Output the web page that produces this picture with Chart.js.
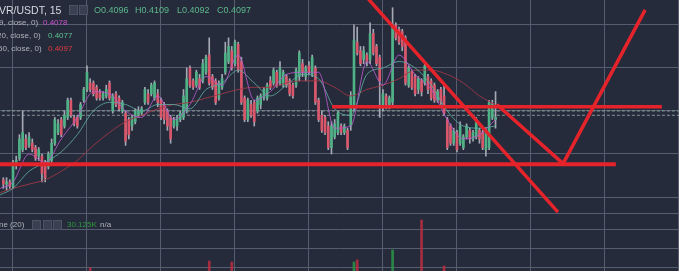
<!DOCTYPE html>
<html>
<head>
<meta charset="utf-8">
<script src="https://cdn.jsdelivr.net/npm/chart.js@4.4.1/dist/chart.umd.min.js"></script>
<style>
  html, body { margin: 0; padding: 0; background: #252b3b; }
  #wrap { position: relative; width: 679px; height: 271px; overflow: hidden; font-family: 'Liberation Sans', Arial, sans-serif; }
  #wrap canvas { position: absolute; left: 0; top: 0; }
  .t { position: absolute; white-space: nowrap; line-height: 1; }
  .box { position: absolute; width: 7px; height: 8px; background: #3a404f; border: 1px solid #4d5364; }
  .sub { font-size: 8px; color: #b0b3bb; }
</style>
</head>
<body>
<div id="wrap">
  <canvas id="grafico" width="679" height="271"></canvas>

  <span class="t" style="left:-1px;top:5px;font-size:10.5px;color:#d7d9e0">VR/USDT, 15</span>
  <span class="box" style="left:69px;top:5px"></span>
  <span class="box" style="left:79px;top:5px"></span>
  <span class="t" style="left:94px;top:6px;font-size:9px;color:#5cb98b">O0.4096</span>
  <span class="t" style="left:135px;top:6px;font-size:9px;color:#5cb98b">H0.4109</span>
  <span class="t" style="left:177px;top:6px;font-size:9px;color:#5cb98b">L0.4092</span>
  <span class="t" style="left:217px;top:6px;font-size:9px;color:#5cb98b">C0.4097</span>

  <span class="t sub" style="left:-1px;top:19px">9, close, 0)</span>
  <span class="t sub" style="left:43px;top:19px;color:#cc4fcc">0.4078</span>
  <span class="t sub" style="left:-3px;top:32px">20, close, 0)</span>
  <span class="t sub" style="left:48px;top:32px;color:#5cc08e">0.4077</span>
  <span class="t sub" style="left:-2px;top:45px">50, close, 0)</span>
  <span class="t sub" style="left:48px;top:45px;color:#e33b3b">0.4097</span>

  <span class="t sub" style="left:-1px;top:221px">ne (20)</span>
  <span class="box" style="left:32px;top:220px"></span>
  <span class="box" style="left:43px;top:220px"></span>
  <span class="box" style="left:53px;top:220px"></span>
  <span class="t sub" style="left:67px;top:221px;color:#2e9a3e">30.125K</span>
  <span class="t sub" style="left:100px;top:221px">n/a</span>
</div>

<script>
// candles, 15 min, index of the first candle
const firstIdx = -3;

const opens = [
  0.4068,0.4066,0.4067,0.4065,0.4075,0.4078,0.4082,0.4087,0.4084,0.4085,
  0.4083,0.4079,0.4079,0.4075,0.4074,0.4077,0.4085,0.4090,0.4096,0.4093,
  0.4097,0.4105,0.4097,0.4097,0.4097,0.4105,0.4110,0.4113,0.4113,0.4111,
  0.4109,0.4106,0.4107,0.4113,0.4100,0.4108,0.4106,0.4100,0.4099,0.4096,
  0.4093,0.4095,0.4098,0.4099,0.4104,0.4108,0.4108,0.4106,0.4108,0.4105,
  0.4103,0.4100,0.4097,0.4093,0.4093,0.4096,0.4097,0.4100,0.4120,0.4114,
  0.4112,0.4115,0.4114,0.4118,0.4126,0.4116,0.4114,0.4106,0.4111,0.4118,
  0.4123,0.4128,0.4122,0.4131,0.4123,0.4106,0.4096,0.4103,0.4104,0.4100,
  0.4103,0.4106,0.4106,0.4114,0.4113,0.4118,0.4113,0.4112,0.4116,0.4114,
  0.4112,0.4112,0.4116,0.4122,0.4116,0.4121,0.4117,0.4120,0.4105,0.4098,
  0.4097,0.4093,0.4083,0.4088,0.4090,0.4093,0.4090,0.4091,0.4093,0.4102,
  0.4132,0.4128,0.4124,0.4126,0.4124,0.4136,0.4130,0.4125,0.4102,0.4107,
  0.4103,0.4104,0.4140,0.4138,0.4137,0.4134,0.4112,0.4118,0.4116,0.4110,
  0.4114,0.4113,0.4116,0.4114,0.4112,0.4105,0.4110,0.4107,0.4096,0.4093,
  0.4085,0.4090,0.4085,0.4083,0.4088,0.4091,0.4087,0.4088,0.4091,0.4090,
  0.4082,0.4083,0.4097,0.4096
];
const highs = [
  0.4069,0.4069,0.4068,0.4077,0.4079,0.4089,0.4100,0.4089,0.4090,0.4087,
  0.4084,0.4083,0.4080,0.4077,0.4081,0.4087,0.4097,0.4096,0.4097,0.4100,
  0.4106,0.4106,0.4098,0.4098,0.4104,0.4111,0.4121,0.4115,0.4114,0.4112,
  0.4110,0.4109,0.4112,0.4114,0.4108,0.4109,0.4107,0.4105,0.4100,0.4097,
  0.4098,0.4101,0.4102,0.4102,0.4111,0.4110,0.4113,0.4114,0.4110,0.4106,
  0.4104,0.4101,0.4098,0.4097,0.4098,0.4100,0.4110,0.4120,0.4121,0.4115,
  0.4119,0.4117,0.4124,0.4126,0.4134,0.4117,0.4115,0.4114,0.4117,0.4132,
  0.4134,0.4130,0.4133,0.4132,0.4125,0.4107,0.4106,0.4105,0.4105,0.4107,
  0.4108,0.4111,0.4113,0.4116,0.4120,0.4119,0.4123,0.4119,0.4117,0.4115,
  0.4113,0.4120,0.4128,0.4124,0.4121,0.4123,0.4126,0.4121,0.4106,0.4100,
  0.4098,0.4095,0.4095,0.4096,0.4100,0.4094,0.4094,0.4092,0.4109,0.4140,
  0.4139,0.4130,0.4130,0.4127,0.4141,0.4138,0.4131,0.4126,0.4110,0.4108,
  0.4107,0.4148,0.4141,0.4139,0.4138,0.4135,0.4121,0.4119,0.4117,0.4116,
  0.4115,0.4122,0.4117,0.4115,0.4113,0.4110,0.4111,0.4112,0.4097,0.4094,
  0.4092,0.4091,0.4095,0.4089,0.4094,0.4092,0.4091,0.4097,0.4092,0.4091,
  0.4092,0.4105,0.4105,0.4109
];
const lows = [
  0.4064,0.4063,0.4064,0.4064,0.4073,0.4077,0.4081,0.4082,0.4083,0.4081,
  0.4077,0.4077,0.4067,0.4067,0.4073,0.4076,0.4084,0.4089,0.4088,0.4092,
  0.4096,0.4097,0.4093,0.4092,0.4096,0.4104,0.4109,0.4109,0.4107,0.4105,
  0.4105,0.4105,0.4106,0.4105,0.4099,0.4102,0.4100,0.4099,0.4084,0.4087,
  0.4091,0.4094,0.4097,0.4098,0.4103,0.4103,0.4107,0.4105,0.4102,0.4096,
  0.4094,0.4091,0.4085,0.4092,0.4091,0.4095,0.4096,0.4099,0.4111,0.4110,
  0.4111,0.4110,0.4113,0.4117,0.4112,0.4110,0.4103,0.4105,0.4110,0.4117,
  0.4122,0.4119,0.4121,0.4118,0.4103,0.4095,0.4095,0.4097,0.4093,0.4099,
  0.4101,0.4105,0.4105,0.4110,0.4112,0.4111,0.4112,0.4111,0.4111,0.4107,
  0.4106,0.4111,0.4114,0.4116,0.4114,0.4117,0.4116,0.4103,0.4095,0.4090,
  0.4089,0.4082,0.4080,0.4087,0.4089,0.4089,0.4089,0.4082,0.4091,0.4100,
  0.4126,0.4121,0.4122,0.4121,0.4122,0.4126,0.4121,0.4097,0.4100,0.4101,
  0.4101,0.4102,0.4133,0.4131,0.4128,0.4112,0.4111,0.4110,0.4107,0.4108,
  0.4107,0.4112,0.4108,0.4105,0.4104,0.4104,0.4103,0.4098,0.4082,0.4084,
  0.4084,0.4081,0.4084,0.4082,0.4087,0.4085,0.4086,0.4087,0.4085,0.4082,
  0.4079,0.4082,0.4096,0.4092
];
const closes = [
  0.4066,0.4067,0.4065,0.4076,0.4077,0.4087,0.4090,0.4083,0.4088,0.4082,
  0.4078,0.4082,0.4071,0.4069,0.4080,0.4085,0.4096,0.4094,0.4089,0.4098,
  0.4105,0.4098,0.4094,0.4093,0.4103,0.4110,0.4118,0.4110,0.4108,0.4106,
  0.4106,0.4108,0.4110,0.4106,0.4107,0.4103,0.4101,0.4104,0.4086,0.4089,
  0.4097,0.4100,0.4100,0.4101,0.4110,0.4104,0.4112,0.4113,0.4104,0.4097,
  0.4096,0.4093,0.4087,0.4096,0.4097,0.4099,0.4107,0.4115,0.4112,0.4111,
  0.4118,0.4111,0.4122,0.4125,0.4113,0.4111,0.4104,0.4113,0.4115,0.4127,
  0.4130,0.4120,0.4132,0.4119,0.4104,0.4096,0.4105,0.4098,0.4095,0.4106,
  0.4107,0.4110,0.4112,0.4111,0.4119,0.4112,0.4120,0.4118,0.4112,0.4108,
  0.4107,0.4119,0.4127,0.4118,0.4120,0.4118,0.4125,0.4104,0.4096,0.4091,
  0.4090,0.4083,0.4093,0.4094,0.4099,0.4090,0.4093,0.4083,0.4107,0.4133,
  0.4127,0.4122,0.4128,0.4123,0.4136,0.4127,0.4122,0.4114,0.4108,0.4103,
  0.4106,0.4140,0.4134,0.4132,0.4130,0.4113,0.4120,0.4111,0.4108,0.4115,
  0.4109,0.4121,0.4110,0.4106,0.4105,0.4109,0.4104,0.4099,0.4083,0.4085,
  0.4091,0.4082,0.4093,0.4088,0.4093,0.4087,0.4090,0.4096,0.4087,0.4083,
  0.4091,0.4104,0.4103,0.4097
];

// moving averages every 5 candles
const maIdx  = [-4, 0, 5, 10, 15, 20, 25, 30, 35, 40, 45, 50, 55, 60, 65, 70, 75, 80, 85, 90, 95, 100, 105, 110, 115, 120, 125, 130, 135, 140, 145, 150];
const maFast = [0.4064,0.4067,0.4080,0.4076,0.4087,0.4097,0.4109,0.4108,0.4100,0.4097,0.4107,0.4096,0.4103,0.4116,0.4112,0.4126,
                0.4105,0.4109,0.4117,0.4118,0.4118,0.4092,0.4093,0.4123,0.4112,0.4126,0.4117,0.4110,0.4096,0.4087,0.4089,0.4096];
const maMid  = [0.4061,0.4064,0.4072,0.4076,0.4081,0.4089,0.4100,0.4104,0.4103,0.4100,0.4103,0.4103,0.4101,0.4110,0.4113,0.4119,
                0.4113,0.4107,0.4112,0.4117,0.4115,0.4101,0.4098,0.4117,0.4120,0.4123,0.4120,0.4112,0.4100,0.4093,0.4092,0.4093];
const maSlow = [0.4062,0.4064,0.4066,0.4068,0.4072,0.4077,0.4084,0.4090,0.4095,0.4098,0.4101,0.4103,0.4104,0.4106,0.4108,0.4110,
                0.4111,0.4111,0.4113,0.4114,0.4114,0.4111,0.4107,0.4110,0.4112,0.4115,0.4119,0.4119,0.4117,0.4113,0.4107,0.4103];

// volume bars that rise into view
const volIdx = [24, 61, 68, 106, 107, 118, 127, 134];
const volVal = [96000, 132000, 127000, 127000, 138000, 190000, 347000, 106000];

// price lines and hand drawn lines
const priceLines = [0.4100, 0.4098];
const supportY = 0.40752;
const resistY = 0.4102;
const trendA = [[110.5, 0.4152], [169.4, 0.4053]];
const trendV = [[150.4, 0.4103], [171.0, 0.40755], [196.5, 0.4147]];

const xGrid = [0, 23, 46, 69, 92, 115, 138, 161, 184, 207];
const yGrid = [0.4060, 0.4080, 0.4100, 0.4120, 0.4140];
const volGrid = [100000, 200000, 300000, 379000];

const corAlta = '#4fb286';
const corBaixa = '#d9566b';
const corLinha = '#e5232b';
const corGrade = '#565d6e';

const idx = opens.map((_, k) => firstIdx + k);
const alta = k => closes[k] >= opens[k];

const ctx = document.getElementById('grafico').getContext('2d');

const eixoOculto = (extra) => Object.assign({
  border: { display: false },
  ticks: { display: false },
  grid: { color: corGrade, lineWidth: 1, drawTicks: false }
}, extra);

new Chart(ctx, {
  type: 'bar',
  data: {
    datasets: [
      {
        type: 'line', order: 0,
        data: [{ x: -4.1, y: supportY }, { x: 187.4, y: supportY }],
        borderColor: corLinha, borderWidth: 4, pointRadius: 0
      },
      {
        type: 'line', order: 0,
        data: [{ x: 99.2, y: resistY }, { x: 201.7, y: resistY }],
        borderColor: corLinha, borderWidth: 3.5, pointRadius: 0
      },
      {
        type: 'line', order: 0,
        data: trendA.map(p => ({ x: p[0], y: p[1] })),
        borderColor: corLinha, borderWidth: 3.5, pointRadius: 0
      },
      {
        type: 'line', order: 0,
        data: trendV.map(p => ({ x: p[0], y: p[1] })),
        borderColor: corLinha, borderWidth: 3.5, pointRadius: 0, borderJoinStyle: 'miter'
      },
      {
        type: 'line', order: 1,
        data: maIdx.map((x, k) => ({ x, y: maFast[k] })),
        borderColor: 'rgba(185,90,205,0.85)', borderWidth: 1, pointRadius: 0, cubicInterpolationMode: 'monotone'
      },
      {
        type: 'line', order: 1,
        data: maIdx.map((x, k) => ({ x, y: maMid[k] })),
        borderColor: 'rgba(95,170,160,0.85)', borderWidth: 1, pointRadius: 0, cubicInterpolationMode: 'monotone'
      },
      {
        type: 'line', order: 1,
        data: maIdx.map((x, k) => ({ x, y: maSlow[k] })),
        borderColor: 'rgba(160,55,70,0.9)', borderWidth: 1, pointRadius: 0, cubicInterpolationMode: 'monotone'
      },
      {
        type: 'bar', order: 2, grouped: false, barThickness: 2,
        data: idx.map((x, k) => ({ x, y: [opens[k], closes[k]] })),
        backgroundColor: idx.map((x, k) => alta(k) ? corAlta : corBaixa)
      },
      {
        type: 'bar', order: 3, grouped: false, barThickness: 1,
        data: idx.map((x, k) => ({ x, y: [lows[k], highs[k]] })),
        backgroundColor: '#a4a9b4'
      },
      {
        type: 'bar', order: 4, grouped: false, barThickness: 2, yAxisID: 'y2',
        data: volIdx.map((x, k) => ({ x, y: volVal[k] })),
        backgroundColor: volIdx.map(x => alta(x - firstIdx) ? 'rgba(45,150,70,0.85)' : 'rgba(190,45,65,0.85)')
      },
      ...priceLines.map(v => ({
        type: 'line', order: 5,
        data: [{ x: -5, y: v }, { x: 208, y: v }],
        borderColor: 'rgba(165,185,180,0.75)', borderWidth: 1, borderDash: [3, 2], pointRadius: 0
      }))
    ]
  },
  options: {
    responsive: false,
    animation: false,
    events: [],
    layout: { padding: 0 },
    plugins: { legend: { display: false }, tooltip: { enabled: false } },
    scales: {
      x: eixoOculto({
        type: 'linear', min: -4.04, max: 207.03, offset: false,
        grid: { color: corGrade, lineWidth: 1, drawTicks: false, offset: false },
        afterBuildTicks: s => { s.ticks = xGrid.map(v => ({ value: v })); }
      }),
      y: eixoOculto({
        type: 'linear', min: 0.40256, max: 0.41516,
        afterBuildTicks: s => { s.ticks = yGrid.map(v => ({ value: v })); }
      }),
      y2: eixoOculto({
        type: 'linear', position: 'right', min: 80000, max: 1500000,
        afterBuildTicks: s => { s.ticks = volGrid.map(v => ({ value: v })); }
      })
    }
  }
});
</script>
</body>
</html>
